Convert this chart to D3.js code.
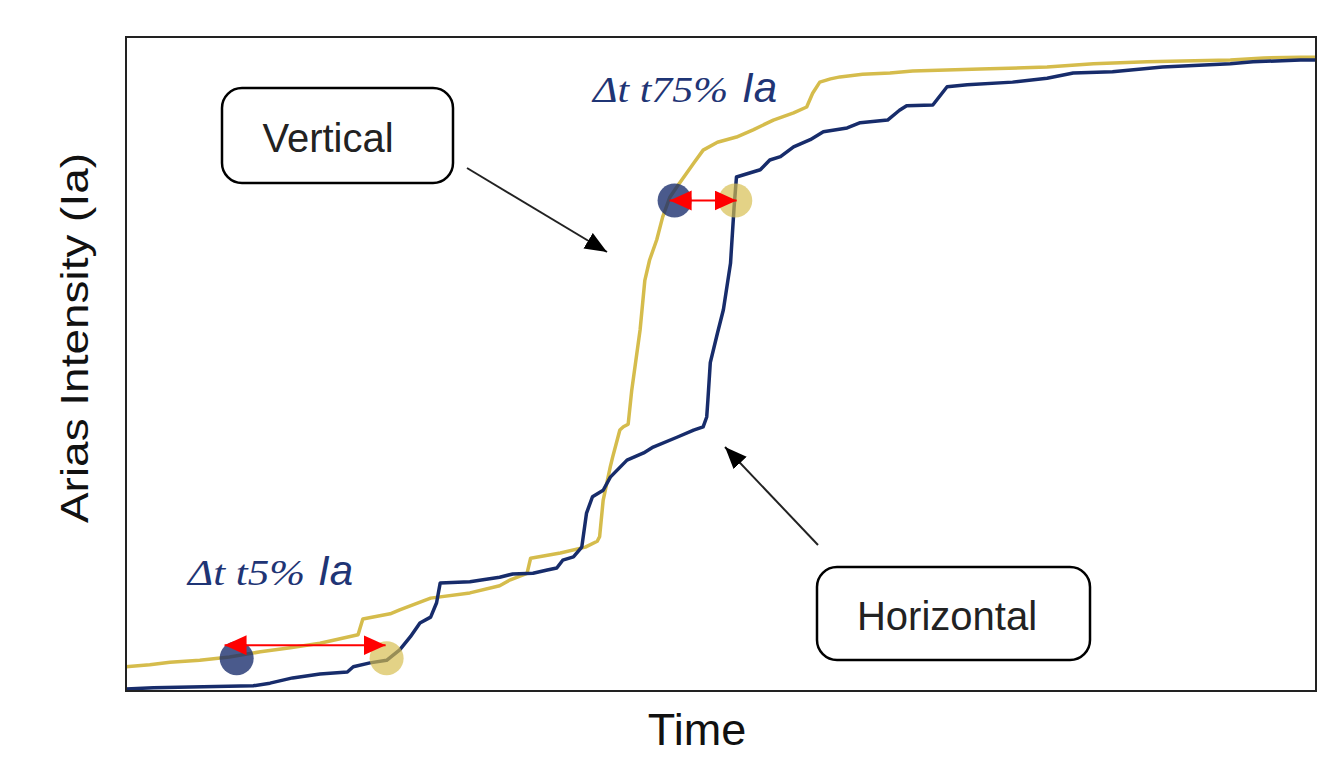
<!DOCTYPE html>
<html>
<head>
<meta charset="utf-8">
<script src="https://cdn.jsdelivr.net/npm/d3@7"></script>
<style>
  body { margin: 0; background: #fff; }
</style>
</head>
<body>
<div id="chart"></div>
<script>
// cumulative Arias intensity (% of final) against time (arbitrary 0-100)
const goldTime = [0, 2.0, 3.7, 6.2, 8.7, 11.3, 13.8, 16.3, 19.5, 19.9, 22.2, 23.0, 25.6, 28.9, 31.4, 32.3, 33.7, 34.0, 36.5, 38.6,
  39.6, 39.8, 40.1, 40.7, 40.9, 41.5, 41.8, 42.2, 42.5, 43.2, 43.6, 44.0, 44.6, 45.1, 45.7, 46.3, 47.7, 48.5, 49.7, 51.3,
  52.7, 54.4, 56.1, 57.2, 57.7, 58.3, 59.2, 60.0, 61.9, 64.2, 66.1, 71.8, 77.4, 81.3, 85.8, 92.8, 95.6, 98.7, 100];
const goldIa = [3.7, 4.0, 4.4, 4.7, 5.2, 6.0, 6.6, 7.3, 8.6, 11.0, 11.8, 12.4, 14.2, 15.0, 16.1, 17.0, 18.0, 20.3, 21.1, 22.0,
  22.9, 23.6, 29.2, 34.3, 35.8, 39.9, 40.4, 40.8, 46.0, 55.2, 62.8, 65.9, 69.0, 72.5, 75.5, 77.1, 80.7, 82.7, 83.9, 84.7,
  85.8, 87.3, 88.4, 89.3, 91.4, 93.1, 93.6, 93.9, 94.3, 94.5, 94.8, 95.1, 95.4, 95.9, 96.2, 96.5, 96.8, 96.9, 96.9];

const navyTime = [0, 2.3, 10.7, 12.1, 14.0, 16.3, 18.6, 19.1, 20.5, 21.9, 23.0, 23.9, 24.7, 25.6, 26.1, 26.4, 28.9, 30.0, 31.4, 32.5,
  34.2, 35.4, 36.2, 36.7, 37.6, 38.3, 38.7, 39.2, 40.1, 40.7, 42.1, 43.5, 44.3, 46.3, 47.7, 48.5, 48.8, 48.9, 49.1, 49.7,
  50.2, 50.8, 51.1, 51.3, 52.4, 53.3, 54.1, 55.0, 56.1, 57.5, 58.6, 60.6, 61.7, 64.0, 65.0, 65.6, 67.8, 69.0, 70.7, 74.5,
  77.4, 79.6, 82.9, 87.1, 92.8, 94.7, 98.7, 100];
const navyIa = [0.3, 0.5, 0.8, 1.2, 2.0, 2.6, 2.9, 3.7, 4.3, 4.7, 6.3, 8.3, 10.4, 11.3, 13.5, 16.5, 16.7, 17.0, 17.4, 17.9,
  18.0, 18.5, 18.8, 20.0, 20.5, 22.0, 27.2, 29.7, 30.7, 32.7, 35.3, 36.4, 37.3, 38.8, 39.9, 40.4, 41.9, 44.5, 50.2, 54.7,
  58.3, 65.4, 74.0, 78.6, 79.2, 79.7, 81.2, 81.7, 83.2, 84.3, 85.5, 86.1, 86.9, 87.3, 88.8, 89.5, 89.6, 92.4, 92.7, 93.1,
  93.7, 94.5, 94.7, 95.4, 95.9, 96.2, 96.5, 96.5];

// threshold points (5% and 75% Ia)
const pointTime = [9.3, 21.9, 46.1, 51.2];
const pointIa = [5, 5, 75, 75];
const pointSeries = ["navy", "gold", "navy", "gold"];

// red delta-t arrows
const deltaStart = [8.2, 45.6];
const deltaEnd = [21.9, 51.4];
const deltaIa = [7, 75];
const deltaLabel = ["\u0394t t5%", "\u0394t t75%"];

const width = 1344,
      height = 757,
      margin = ({ top: 37, right: 28, bottom: 66, left: 126 });

const gold = "#d5bc4c",
      navy = "#172c6b",
      textNavy = "#1f3575";

let svg = d3.select("#chart")
    .append("svg")
    .attr("width", width)
    .attr("height", height);

let x = d3.scaleLinear()
    .domain([0, 100])
    .range([margin.left, width - margin.right]);

let y = d3.scaleLinear()
    .domain([0, 100])
    .range([height - margin.bottom, margin.top]);

let defs = svg.append("defs");
defs.append("marker")
    .attr("id", "redHead")
    .attr("markerUnits", "userSpaceOnUse")
    .attr("markerWidth", 24).attr("markerHeight", 22)
    .attr("refX", 22).attr("refY", 10)
    .attr("orient", "auto-start-reverse")
    .append("path")
    .attr("d", "M0,0 L22,10 L0,20 Z")
    .attr("fill", "#ff0000");
defs.append("marker")
    .attr("id", "blackHead")
    .attr("markerUnits", "userSpaceOnUse")
    .attr("markerWidth", 24).attr("markerHeight", 22)
    .attr("refX", 22).attr("refY", 9)
    .attr("orient", "auto")
    .append("path")
    .attr("d", "M0,0 L22,9 L0,18 Z")
    .attr("fill", "#000");

// curves
let line = d3.line()
    .x(d => x(d[0]))
    .y(d => y(d[1]));

const series = [
    { color: gold, pts: d3.zip(goldTime, goldIa) },
    { color: navy, pts: d3.zip(navyTime, navyIa) }
];

svg.selectAll(".curve")
    .data(series)
    .join("path")
    .attr("class", "curve")
    .attr("fill", "none")
    .attr("stroke", d => d.color)
    .attr("stroke-width", 3.5)
    .attr("stroke-linejoin", "round")
    .attr("d", d => line(d.pts));

// threshold circles
svg.selectAll(".pt")
    .data(pointTime.map((t, i) => ({ t: t, ia: pointIa[i], s: pointSeries[i] })))
    .join("circle")
    .attr("class", "pt")
    .attr("cx", d => x(d.t))
    .attr("cy", d => y(d.ia))
    .attr("r", 17)
    .attr("fill", d => d.s == "navy" ? navy : gold)
    .attr("fill-opacity", d => d.s == "navy" ? 0.78 : 0.68);

// red arrows
svg.selectAll(".delta")
    .data(deltaStart.map((t, i) => ({ a: t, b: deltaEnd[i], ia: deltaIa[i] })))
    .join("line")
    .attr("class", "delta")
    .attr("x1", d => x(d.a) + 1)
    .attr("x2", d => x(d.b) - 1)
    .attr("y1", d => y(d.ia))
    .attr("y2", d => y(d.ia))
    .attr("stroke", "#ff0000")
    .attr("stroke-width", 2)
    .attr("marker-start", "url(#redHead)")
    .attr("marker-end", "url(#redHead)");

// delta labels
const labelPos = [{ x: 188, y: 585, w: 117, ia: 318 }, { x: 593, y: 102, w: 135, ia: 742 }];
labelPos.forEach((p, i) => {
    svg.append("text")
        .attr("x", p.x).attr("y", p.y)
        .attr("textLength", p.w)
        .attr("lengthAdjust", "spacingAndGlyphs")
        .style("font-family", "'Liberation Serif', 'DejaVu Serif', serif")
        .style("font-style", "italic")
        .style("font-size", "36px")
        .style("fill", textNavy)
        .text(deltaLabel[i]);
    svg.append("text")
        .attr("x", p.ia).attr("y", p.y)
        .style("font-family", "'Liberation Sans', Arial, sans-serif")
        .style("font-style", "italic")
        .style("font-size", "42px")
        .style("fill", textNavy)
        .text("Ia");
});

// frame
svg.append("rect")
    .attr("x", margin.left)
    .attr("y", margin.top)
    .attr("width", width - margin.left - margin.right)
    .attr("height", height - margin.top - margin.bottom)
    .attr("fill", "none")
    .attr("stroke", "#222")
    .attr("stroke-width", 2);

// callout boxes
const boxes = [
    { label: "Vertical", x: 222, y: 88, w: 231, h: 95, tx: 328, ty: 152, from: [467, 168], to: [607, 252] },
    { label: "Horizontal", x: 817, y: 567, w: 273, h: 93, tx: 947, ty: 630, from: [818, 545], to: [725, 447] }
];
boxes.forEach(b => {
    svg.append("rect")
        .attr("x", b.x).attr("y", b.y)
        .attr("width", b.w).attr("height", b.h)
        .attr("rx", 20)
        .attr("fill", "#fff")
        .attr("stroke", "#000")
        .attr("stroke-width", 2.5);
    svg.append("text")
        .attr("x", b.tx).attr("y", b.ty)
        .attr("text-anchor", "middle")
        .style("font-family", "'Liberation Sans', Arial, sans-serif")
        .style("font-size", "40px")
        .style("fill", "#222")
        .text(b.label);
    svg.append("line")
        .attr("x1", b.from[0]).attr("y1", b.from[1])
        .attr("x2", b.to[0]).attr("y2", b.to[1])
        .attr("stroke", "#222")
        .attr("stroke-width", 2)
        .attr("marker-end", "url(#blackHead)");
});

// axis titles
svg.append("text")
    .attr("transform", "translate(88,338) rotate(-90)")
    .attr("text-anchor", "middle")
    .attr("textLength", 370)
    .attr("lengthAdjust", "spacingAndGlyphs")
    .style("font-family", "'Liberation Sans', Arial, sans-serif")
    .style("font-size", "38px")
    .style("fill", "#111")
    .text("Arias Intensity (Ia)");

svg.append("text")
    .attr("x", 697)
    .attr("y", 745)
    .attr("text-anchor", "middle")
    .style("font-family", "'Liberation Sans', Arial, sans-serif")
    .style("font-size", "45px")
    .style("fill", "#111")
    .text("Time");
</script>
</body>
</html>
